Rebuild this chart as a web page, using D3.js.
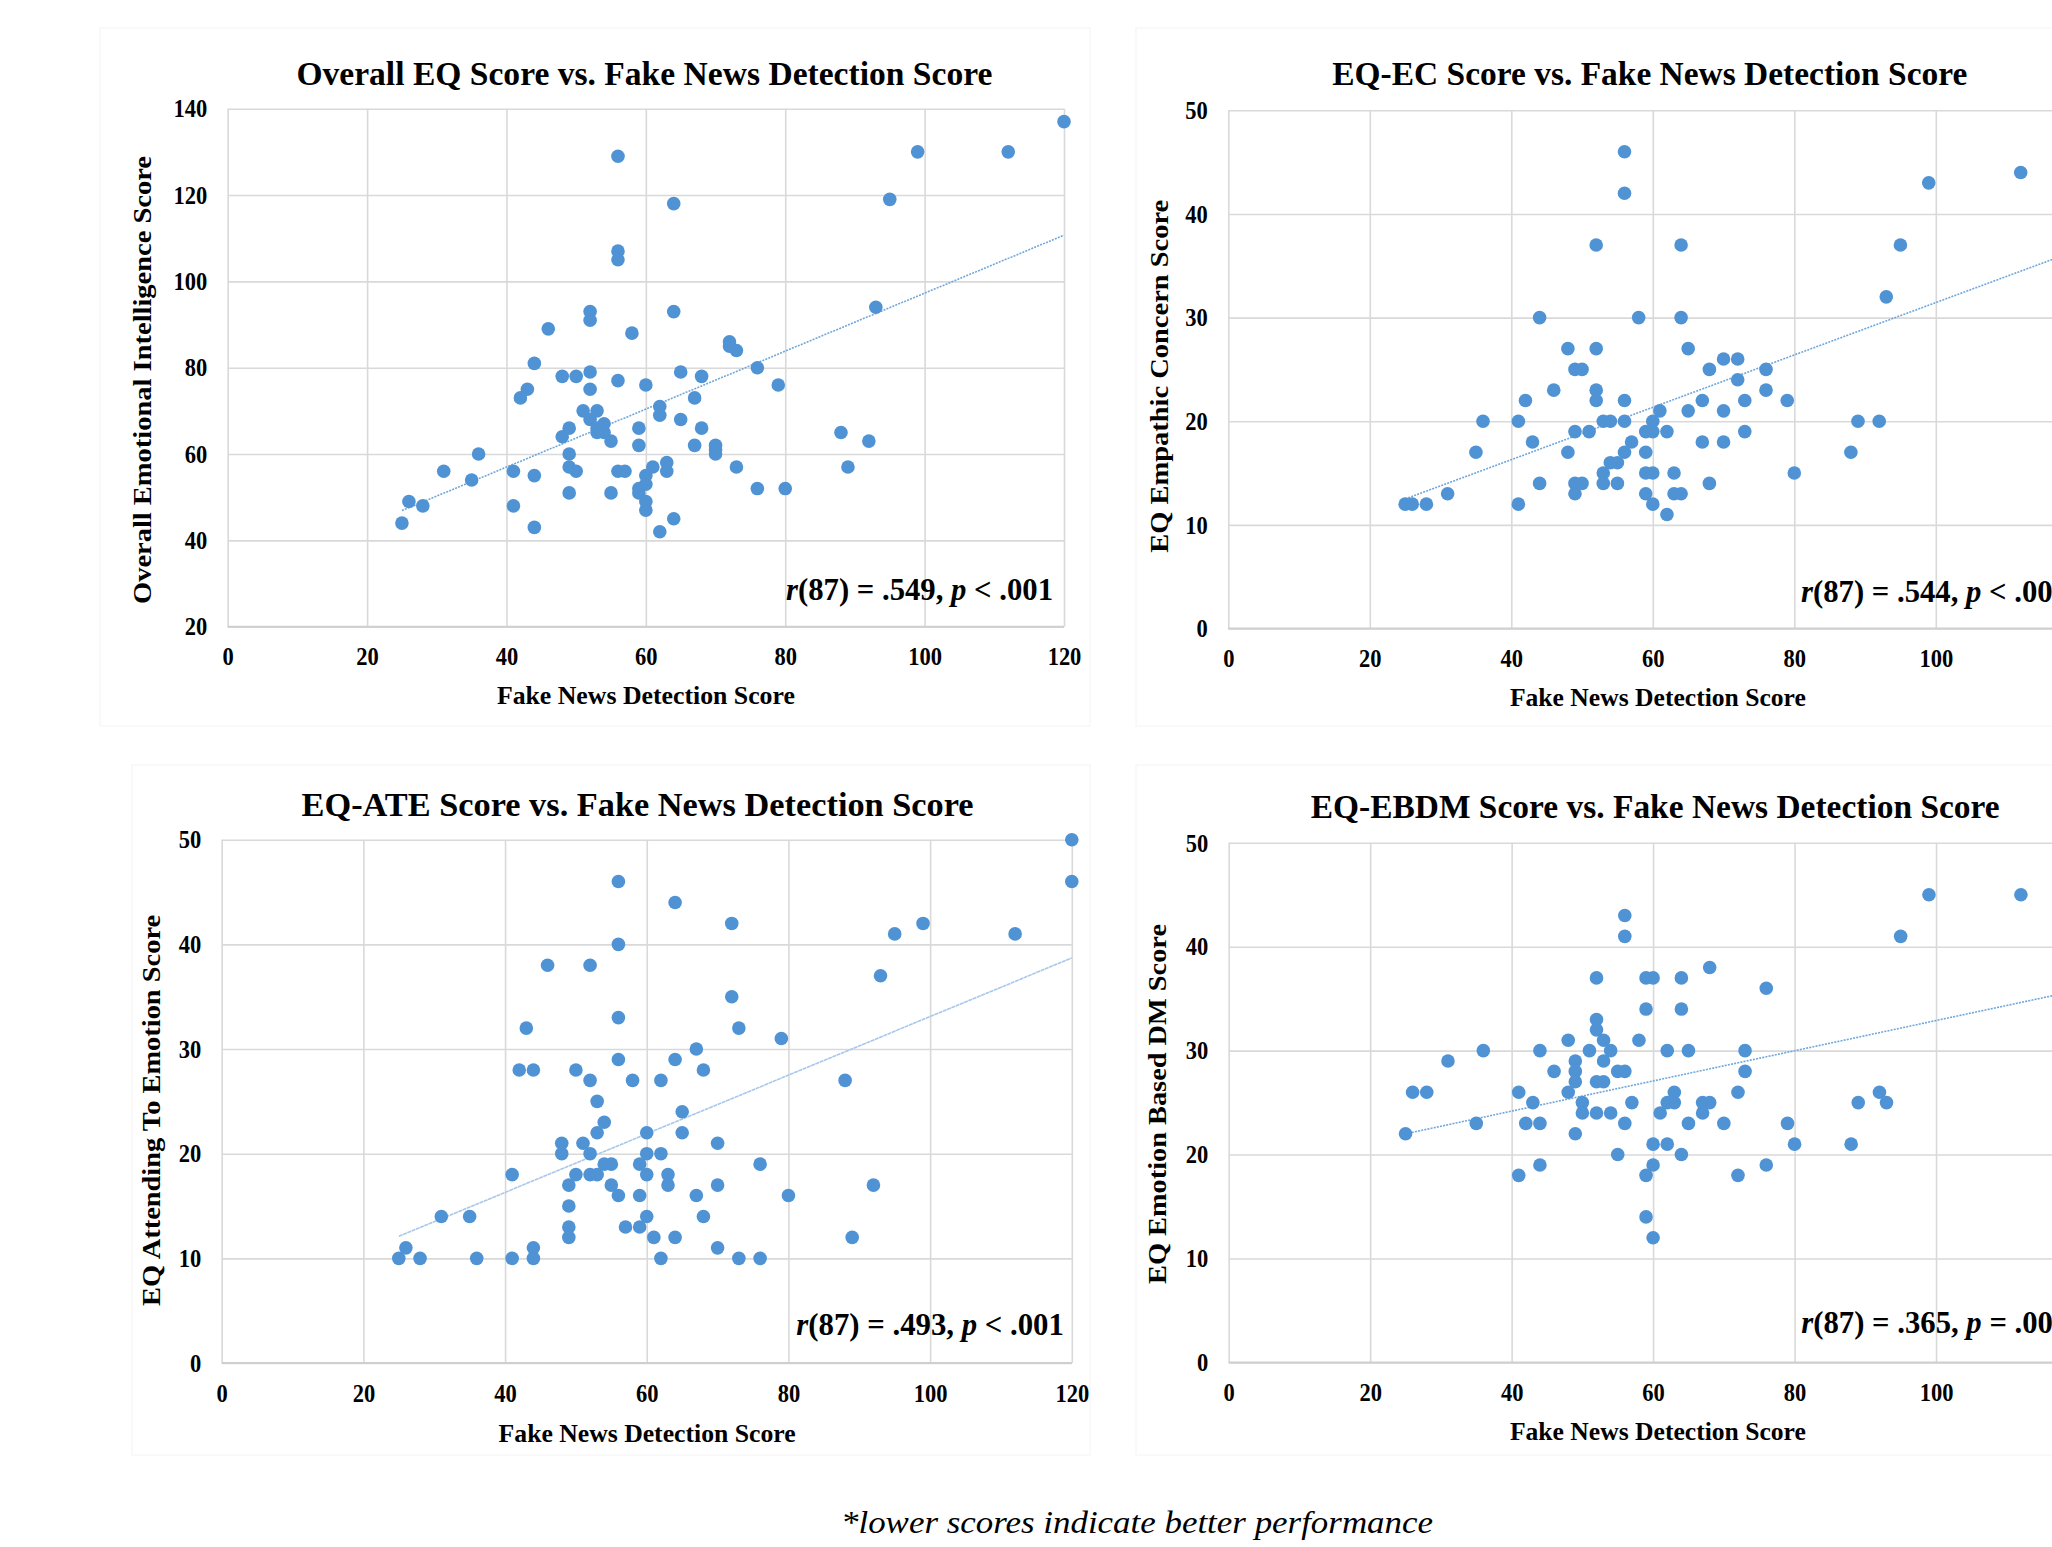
<!DOCTYPE html>
<html>
<head>
<meta charset="utf-8">
<script src="https://cdn.jsdelivr.net/npm/d3@7/dist/d3.min.js"></script>
<style>
  body { margin: 0; background: #fff; }
  svg { display: block; }
  text { font-family: 'Liberation Serif', 'Times New Roman', serif; fill: #000; }
</style>
</head>
<body>
<div class="chart-container"></div>
<script>
// Tick values
const xTicks = [0, 20, 40, 60, 80, 100, 120];
const overallTicks = [20, 40, 60, 80, 100, 120, 140];
const subscaleTicks = [0, 10, 20, 30, 40, 50];

// [fake news detection score, EQ score]
const overallPoints = [
    [25, 44], [26, 49], [28, 48], [31, 56], [35, 54], [36, 60], [41, 56], [41, 48], [42, 73], [43, 75],
    [44, 81], [44, 55], [44, 43], [46, 89], [48, 78], [48, 64], [49, 66], [49, 60], [49, 57], [49, 51],
    [50, 78], [50, 56], [51, 70], [52, 93], [52, 91], [52, 79], [52, 75], [52, 68], [53, 70], [53, 66],
    [53, 65], [54, 67], [54, 65], [55, 63], [55, 51], [56, 129], [56, 107], [56, 105], [56, 77], [56, 56],
    [57, 56], [58, 88], [59, 66], [59, 62], [59, 52], [59, 51], [60, 76], [60, 55], [60, 53], [60, 49],
    [60, 47], [61, 57], [62, 71], [62, 69], [62, 42], [63, 58], [63, 56], [64, 118], [64, 93], [64, 45],
    [65, 79], [65, 68], [67, 73], [67, 62], [68, 78], [68, 66], [70, 62], [70, 61], [70, 60], [72, 86],
    [72, 85], [73, 84], [73, 57], [76, 80], [76, 52], [79, 76], [80, 52], [88, 65], [89, 57], [92, 63],
    [93, 94], [95, 119], [99, 130], [112, 130], [120, 137]
];
const ecPoints = [
    [25, 12], [26, 12], [28, 12], [31, 13], [35, 17], [36, 20], [41, 20], [41, 12], [42, 22], [43, 18],
    [44, 30], [44, 14], [46, 23], [48, 27], [48, 17], [49, 25], [49, 19], [49, 14], [49, 13], [50, 25],
    [50, 14], [51, 19], [52, 37], [52, 27], [52, 23], [52, 22], [53, 20], [53, 15], [53, 14], [54, 20],
    [54, 16], [55, 16], [55, 14], [56, 46], [56, 42], [56, 22], [56, 20], [56, 17], [57, 18], [58, 30],
    [59, 19], [59, 17], [59, 15], [59, 13], [60, 20], [60, 19], [60, 15], [60, 12], [61, 21], [62, 19],
    [62, 11], [63, 15], [63, 13], [64, 37], [64, 30], [64, 13], [65, 27], [65, 21], [67, 22], [67, 18],
    [68, 25], [68, 14], [70, 26], [70, 21], [70, 18], [72, 26], [72, 24], [73, 22], [73, 19], [76, 25],
    [76, 23], [79, 22], [80, 15], [88, 17], [89, 20], [92, 20], [93, 32], [95, 37], [99, 43], [112, 44],
    [120, 47]
];
const atePoints = [
    [25, 10], [26, 11], [28, 10], [31, 14], [35, 14], [36, 10], [41, 18], [41, 10], [42, 28], [43, 32],
    [44, 28], [44, 11], [44, 10], [46, 38], [48, 21], [48, 20], [49, 17], [49, 15], [49, 13], [49, 12],
    [50, 28], [50, 18], [51, 21], [52, 38], [52, 27], [52, 20], [52, 18], [53, 25], [53, 22], [53, 18],
    [54, 23], [54, 19], [55, 19], [55, 17], [56, 46], [56, 40], [56, 33], [56, 29], [56, 16], [57, 13],
    [58, 27], [59, 19], [59, 16], [59, 13], [60, 22], [60, 20], [60, 18], [60, 14], [61, 12], [62, 27],
    [62, 20], [62, 10], [63, 18], [63, 17], [64, 44], [64, 29], [64, 12], [65, 24], [65, 22], [67, 30],
    [67, 16], [68, 28], [68, 14], [70, 21], [70, 17], [70, 11], [72, 42], [72, 35], [73, 32], [73, 10],
    [76, 19], [76, 10], [79, 31], [80, 16], [88, 27], [89, 12], [92, 17], [93, 37], [95, 41], [99, 42],
    [112, 41], [120, 50], [120, 46]
];
const ebdmPoints = [
    [25, 22], [26, 26], [28, 26], [31, 29], [35, 23], [36, 30], [41, 26], [41, 18], [42, 23], [43, 25],
    [44, 30], [44, 23], [44, 19], [46, 28], [48, 31], [48, 26], [49, 29], [49, 28], [49, 27], [49, 22],
    [50, 25], [50, 24], [51, 30], [52, 37], [52, 33], [52, 32], [52, 27], [52, 24], [53, 31], [53, 29],
    [53, 27], [54, 30], [54, 24], [55, 28], [55, 20], [56, 43], [56, 41], [56, 28], [56, 23], [57, 25],
    [58, 31], [59, 37], [59, 34], [59, 18], [59, 14], [60, 37], [60, 21], [60, 19], [60, 12], [61, 24],
    [62, 30], [62, 25], [62, 21], [63, 26], [63, 25], [64, 37], [64, 34], [64, 20], [65, 30], [65, 23],
    [67, 25], [67, 24], [68, 38], [68, 25], [70, 23], [72, 26], [72, 18], [73, 30], [73, 28], [76, 36],
    [76, 19], [79, 23], [80, 21], [88, 21], [89, 25], [92, 26], [93, 25], [95, 41], [99, 45], [112, 45],
    [120, 48]
];

// Linear trend lines, start and end
const overallTrend = [[25, 46.9], [120, 110.7]];
const ecTrend = [[25, 12.5], [120, 36.5]];
const ateTrend = [[25, 12.1], [120, 38.7]];
const ebdmTrend = [[25, 22.0], [120, 35.8]];

const titles = [
    'Overall EQ Score vs. Fake News Detection Score',
    'EQ-EC Score vs. Fake News Detection Score',
    'EQ-ATE Score vs. Fake News Detection Score',
    'EQ-EBDM Score vs. Fake News Detection Score'
];
const yLabels = [
    'Overall Emotional Intelligence Score',
    'EQ Empathic Concern Score',
    'EQ Attending To Emotion Score',
    'EQ Emotion Based DM Score'
];
// r, relation, p for each panel
const stats = [
    ['.549', '<', '.001'],
    ['.544', '<', '.001'],
    ['.493', '<', '.001'],
    ['.365', '=', '.000']
];
const xLabel = 'Fake News Detection Score';
const footnote = '*lower scores indicate better performance';

const W = 2052, H = 1547;
const dotColor = '#4f93d5';
const gridColor = '#d9d9d9';

// Layout of each panel on the page
const panels = [
    { points: overallPoints, trend: overallTrend, yTicks: overallTicks,
      plot: { left: 227.7, right: 1064, top: 108.7, bottom: 626.7 },
      title: [644.4, 84.7, 696], yLab: [151, 380, 448], xLab: [645.9, 704.4, 298], stat: [786, 600, 267],
      frame: [100, 28, 990, 698], dash: '2,1.2', trendColor: '#6fa7dc' },
    { points: ecPoints, trend: ecTrend, yTicks: subscaleTicks,
      plot: { left: 1228.3, right: 2077.3, top: 110.3, bottom: 628.5 },
      title: [1649.8, 84.7, 635], yLab: [1167.5, 376.3, 353], xLab: [1657.9, 705.7, 296], stat: [1801, 601.6, 267],
      frame: [1136, 28, 940, 698], dash: '2,1.2', trendColor: '#6fa7dc' },
    { points: atePoints, trend: ateTrend, yTicks: subscaleTicks,
      plot: { left: 221.7, right: 1071.8, top: 839.7, bottom: 1363 },
      title: [637.6, 815.5, 672], yLab: [160, 1110.4, 391], xLab: [647.1, 1441.9, 297], stat: [796.3, 1334.7, 267.6],
      frame: [132, 765, 958, 690], dash: '4,0.6', trendColor: '#a8c7ea' },
    { points: ebdmPoints, trend: ebdmTrend, yTicks: subscaleTicks,
      plot: { left: 1228.7, right: 2077.5, top: 842.8, bottom: 1362.4 },
      title: [1655.2, 817.8, 689], yLab: [1166, 1104, 360], xLab: [1657.9, 1439.6, 296], stat: [1801.3, 1333.4, 267],
      frame: [1136, 765, 940, 690], dash: '2,1.2', trendColor: '#6fa7dc' }
];

function fit(sel, len) {
    sel.attr('textLength', len).attr('lengthAdjust', 'spacingAndGlyphs');
}

const svg = d3.select('.chart-container')
    .append('svg')
    .attr('width', W)
    .attr('height', H);

svg.append('rect').attr('width', W).attr('height', H).attr('fill', '#fff');

panels.forEach((p, i) => {
    const b = p.plot;
    const width = b.right - b.left, height = b.bottom - b.top;
    const yMin = p.yTicks[0], yMax = p.yTicks[p.yTicks.length - 1];

    // faint chart-area frame
    svg.append('rect')
        .attr('x', p.frame[0]).attr('y', p.frame[1])
        .attr('width', p.frame[2]).attr('height', p.frame[3])
        .attr('fill', 'none')
        .attr('stroke', '#f8f8f8')
        .attr('stroke-width', 1.5);

    const g = svg.append('g').attr('transform', `translate(${b.left},${b.top})`);

    const x = d3.scaleLinear().domain([0, 120]).range([0, width]);
    const y = d3.scaleLinear().domain([yMin, yMax]).range([height, 0]);

    // gridlines
    g.append('g')
        .attr('transform', `translate(0,${height})`)
        .call(d3.axisBottom(x).tickValues(xTicks).tickSize(-height).tickFormat(''))
        .call(a => a.select('.domain').remove())
        .selectAll('line').attr('stroke', gridColor).attr('stroke-width', 1.6);
    g.append('g')
        .call(d3.axisLeft(y).tickValues(p.yTicks).tickSize(-width).tickFormat(''))
        .call(a => a.select('.domain').remove())
        .selectAll('line').attr('stroke', gridColor).attr('stroke-width', 1.6);
    g.append('line')
        .attr('x1', 0).attr('x2', width)
        .attr('y1', height).attr('y2', height)
        .attr('stroke', '#cfcfcf').attr('stroke-width', 2);

    // tick labels (only those that land on the page)
    const shownX = xTicks.filter(t => b.left + x(t) + 20 < W);
    g.append('g')
        .attr('transform', `translate(0,${height})`)
        .call(d3.axisBottom(x).tickValues(shownX).tickSize(0))
        .call(a => a.select('.domain').remove())
        .selectAll('text')
        .attr('y', i < 2 ? 38.5 : 39)
        .attr('dy', 0)
        .attr('fill', '#000')
        .style('font-size', '25px')
        .style('font-weight', 'bold')
        .attr('transform', 'scale(0.9,1)');
    g.append('g')
        .call(d3.axisLeft(y).tickValues(p.yTicks).tickSize(0))
        .call(a => a.select('.domain').remove())
        .selectAll('text')
        .attr('x', -20.5 / 0.9)
        .attr('dy', '0.33em')
        .attr('fill', '#000')
        .style('font-size', '25px')
        .style('font-weight', 'bold')
        .attr('transform', 'scale(0.9,1)');

    // trend line
    g.append('path')
        .datum(p.trend)
        .attr('fill', 'none')
        .attr('stroke', p.trendColor)
        .attr('stroke-width', 1.6)
        .attr('stroke-dasharray', p.dash)
        .attr('d', d3.line().x(d => x(d[0])).y(d => y(d[1])));

    // points
    g.append('g')
        .selectAll('circle')
        .data(p.points)
        .enter()
        .append('circle')
        .attr('cx', d => x(d[0]))
        .attr('cy', d => y(d[1]))
        .attr('r', 6.8)
        .attr('fill', dotColor);

    // title
    svg.append('text')
        .attr('x', p.title[0]).attr('y', p.title[1])
        .attr('text-anchor', 'middle')
        .style('font-size', '34px')
        .style('font-weight', 'bold')
        .text(titles[i])
        .call(fit, p.title[2]);

    // axis titles
    svg.append('text')
        .attr('x', p.xLab[0]).attr('y', p.xLab[1])
        .attr('text-anchor', 'middle')
        .style('font-size', '26px')
        .style('font-weight', 'bold')
        .text(xLabel)
        .call(fit, p.xLab[2]);
    svg.append('text')
        .attr('transform', `translate(${p.yLab[0]},${p.yLab[1]}) rotate(-90)`)
        .attr('text-anchor', 'middle')
        .style('font-size', '26px')
        .style('font-weight', 'bold')
        .text(yLabels[i])
        .call(fit, p.yLab[2]);

    // correlation note
    const s = stats[i];
    const note = svg.append('text')
        .attr('x', p.stat[0]).attr('y', p.stat[1])
        .style('font-size', '31px')
        .style('font-weight', 'bold');
    note.append('tspan').style('font-style', 'italic').text('r');
    note.append('tspan').text(`(87) = ${s[0]}, `);
    note.append('tspan').style('font-style', 'italic').text('p');
    note.append('tspan').text(` ${s[1]} ${s[2]}`);
    note.call(fit, p.stat[2]);
});

svg.append('text')
    .attr('x', 1137).attr('y', 1533)
    .attr('text-anchor', 'middle')
    .style('font-size', '31px')
    .style('font-style', 'italic')
    .text(footnote)
    .call(fit, 592);
</script>
</body>
</html>
